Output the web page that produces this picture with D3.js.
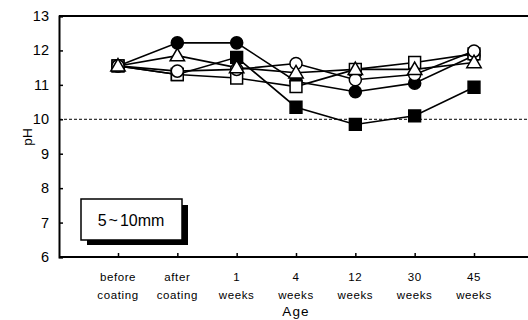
<!DOCTYPE html>
<html>
  <head>
    <meta charset="utf-8" />
    <script src="https://cdn.jsdelivr.net/npm/d3@7"></script>
    <style>
      body {
        margin: 0;
        background: #fff;
      }
      text {
        font-family: "Liberation Sans", Arial, sans-serif;
        fill: #000;
      }
    </style>
  </head>
  <body>
    <svg id="chart" width="528" height="320"></svg>
    <script>
      const ages = ["before|coating", "after|coating", "1|weeks", "4|weeks", "12|weeks", "30|weeks", "45|weeks"];
      const yTicks = [6, 7, 8, 9, 10, 11, 12, 13];

      const filledSquare = [11.55, 11.3, 11.8, 10.35, 9.85, 10.1, 10.93];
      const filledCircle = [11.55, 12.22, 12.22, 11.1, 10.8, 11.05, 11.85];
      const openSquare = [11.55, 11.3, 11.2, 10.95, 11.45, 11.65, 11.9];
      const openCircle = [11.55, 11.4, 11.45, 11.62, 11.15, 11.3, 11.98];
      const openTriangle = [11.55, 11.85, 11.5, 11.35, 11.45, 11.45, 11.65];

      const series = [
        { values: filledSquare, shape: "square", fill: "#000" },
        { values: filledCircle, shape: "circle", fill: "#000" },
        { values: openSquare, shape: "square", fill: "#fff" },
        { values: openCircle, shape: "circle", fill: "#fff" },
        { values: openTriangle, shape: "triangle", fill: "#fff" },
      ];

      const svg = d3.select("#chart");
      const plotL = 59, plotR = 528, plotT = 16, plotB = 257;

      const x = d3.scalePoint().domain(ages).range([118, 474]);
      const y = d3.scaleLinear().domain([6, 13]).range([plotB, plotT]);

      // reference line at pH 10
      svg.append("line")
        .attr("x1", plotL).attr("x2", plotR)
        .attr("y1", y(10)).attr("y2", y(10))
        .attr("stroke", "#000").attr("stroke-width", 1)
        .attr("stroke-dasharray", "3,2");

      // frame: top line only
      svg.append("line")
        .attr("x1", plotL).attr("x2", plotR)
        .attr("y1", plotT).attr("y2", plotT)
        .attr("stroke", "#000").attr("stroke-width", 2);

      const yAxis = svg.append("g")
        .attr("transform", `translate(${plotL},0)`)
        .call(d3.axisRight(y).tickValues(yTicks).tickSize(4).tickFormat(""));
      yAxis.select(".domain").attr("stroke-width", 2);
      yAxis.selectAll("line").attr("stroke-width", 1.5);

      svg.selectAll(".ylab").data(yTicks).enter().append("text")
        .attr("x", 49).attr("y", d => y(d) + 5)
        .attr("text-anchor", "end")
        .attr("font-size", 14.5)
        .text(d => d);

      const xAxis = svg.append("g")
        .attr("transform", `translate(0,${plotB})`)
        .call(d3.axisTop(x).tickSize(4).tickFormat(""));
      xAxis.select(".domain").attr("d", `M${plotL},0H${plotR}`).attr("stroke-width", 2);
      xAxis.selectAll("line").attr("stroke-width", 1.5);

      ages.forEach(a => {
        const parts = a.split("|");
        const t = svg.append("text")
          .attr("text-anchor", "middle")
          .attr("font-size", 11.5)
          .attr("letter-spacing", 0.6);
        parts.forEach((p, i) => {
          t.append("tspan").attr("x", x(a)).attr("y", 281 + i * 18).text(p);
        });
      });

      svg.append("text")
        .attr("x", 296).attr("y", 316)
        .attr("text-anchor", "middle")
        .attr("font-size", 13.5)
        .attr("letter-spacing", 1.2)
        .text("Age");

      svg.append("text")
        .attr("transform", "translate(32,137) rotate(-90)")
        .attr("text-anchor", "middle")
        .attr("font-size", 13.5)
        .text("pH");

      // lines
      const line = d3.line().x((d, i) => x(ages[i])).y(d => y(d));
      series.forEach(s => {
        svg.append("path")
          .datum(s.values)
          .attr("d", line)
          .attr("fill", "none")
          .attr("stroke", "#000")
          .attr("stroke-width", 1.6);
      });

      // markers
      const sym = {
        square: d3.symbol().type(d3.symbolSquare).size(140),
        circle: d3.symbol().type(d3.symbolCircle).size(115),
        triangle: d3.symbol().type(d3.symbolTriangle).size(90),
      };
      series.forEach(s => {
        svg.append("g").selectAll("path")
          .data(s.values)
          .enter().append("path")
          .attr("transform", (d, i) => `translate(${x(ages[i])},${y(d) + (s.shape === "triangle" ? 1 : 0)})`)
          .attr("d", sym[s.shape])
          .attr("fill", s.fill)
          .attr("stroke", "#000")
          .attr("stroke-width", 1.5);
      });

      // label box with shadow
      svg.append("rect")
        .attr("x", 87).attr("y", 205).attr("width", 101).attr("height", 40)
        .attr("fill", "#000");
      svg.append("rect")
        .attr("x", 81).attr("y", 199).attr("width", 101).attr("height", 41)
        .attr("fill", "#fff").attr("stroke", "#000").attr("stroke-width", 1.5);
      const lbl = svg.append("text")
        .attr("x", 131).attr("y", 226)
        .attr("text-anchor", "middle")
        .attr("font-size", 16);
      lbl.append("tspan").text("5");
      lbl.append("tspan").attr("dx", 2).text("~");
      lbl.append("tspan").attr("dx", 2).text("10mm");
    </script>
  </body>
</html>
